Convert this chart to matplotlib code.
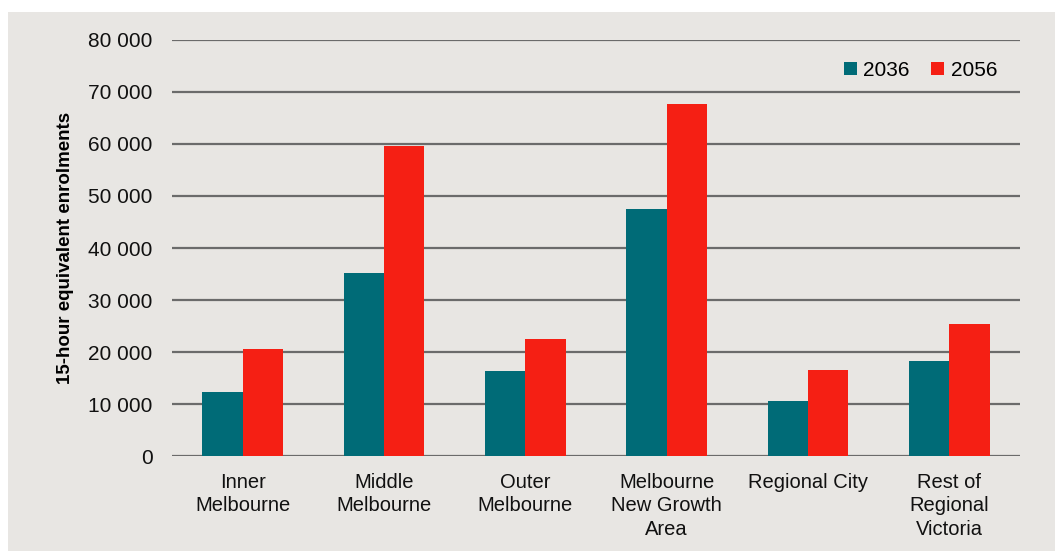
import matplotlib
matplotlib.use('Agg')
import matplotlib.pyplot as plt
import numpy as np
from matplotlib.patches import Rectangle

# data
regions = ['Inner\nMelbourne', 'Middle\nMelbourne', 'Outer\nMelbourne',
           'Melbourne\nNew Growth\nArea', 'Regional City', 'Rest of\nRegional\nVictoria']
y2036 = [12300, 35200, 16300, 47500, 10600, 18300]
y2056 = [20600, 59600, 22500, 67700, 16500, 25400]
yticks = [0, 10000, 20000, 30000, 40000, 50000, 60000, 70000, 80000]

teal = '#006b77'
red = '#f51f14'
bg = '#e8e6e3'

plt.rcParams['font.family'] = ['Liberation Sans', 'DejaVu Sans']

fig = plt.figure(figsize=(10.55, 5.51), dpi=100)
fig.patch.set_facecolor('white')
# grey panel behind the chart
fig.patches.append(Rectangle((8 / 1055, 0), 1, 1 - 12 / 551,
                             transform=fig.transFigure, facecolor=bg,
                             edgecolor='none', zorder=-10))

ax = fig.add_axes([172 / 1055, 1 - 456 / 551, 848 / 1055, 416 / 551])
ax.set_facecolor('none')

x = np.arange(len(regions))
w = 0.286
ax.bar(x - w / 2, y2036, w, color=teal, label='2036', zorder=3)
ax.bar(x + w / 2, y2056, w, color=red, label='2056', zorder=3)

ax.set_xlim(-0.5, len(regions) - 0.5)
ax.set_ylim(0, 80000)
ax.set_yticks(yticks)
ax.set_yticklabels([f'{v:,.0f}'.replace(',', ' ') for v in yticks], fontsize=15)
ax.set_xticks(x)
ax.set_xticklabels(regions, fontsize=14.5, linespacing=1.3)
ax.tick_params(axis='both', length=0, colors='#111111')
ax.tick_params(axis='y', pad=14)
ax.tick_params(axis='x', pad=12)

for v in yticks:
    ax.axhline(v, color='#6b6b6b', linewidth=1.6, zorder=1)

for s in ax.spines.values():
    s.set_visible(False)

ax.set_ylabel('15-hour equivalent enrolments', fontsize=13.5, fontweight='bold',
              labelpad=10)

leg = ax.legend(loc='upper right', bbox_to_anchor=(0.995, 0.995), frameon=False,
                ncol=2, fontsize=15, handlelength=0.65, handleheight=0.65,
                handletextpad=0.3, columnspacing=1.0)

fig.savefig('out.png', dpi=100)
